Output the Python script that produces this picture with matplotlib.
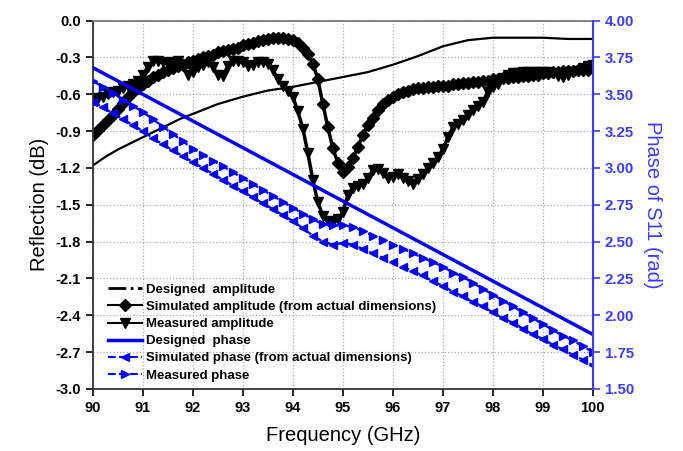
import numpy as np
import matplotlib.pyplot as plt
from matplotlib.lines import Line2D
from matplotlib.ticker import FormatStrFormatter, MultipleLocator

plt.rcParams['font.family'] = ['Liberation Sans', 'DejaVu Sans']
plt.rcParams['axes.unicode_minus'] = False

# designed amplitude (thin line)
f_des = [90.0, 90.25, 90.5, 90.75, 91.0, 91.25, 91.5, 91.75, 92.0, 92.25, 92.5, 92.75,
         93.0, 93.5, 94.0, 94.5, 95.0, 95.5, 96.0, 96.5, 97.0, 97.5, 98.0, 98.5,
         99.0, 99.5, 100.0]
amp_des = [-1.18, -1.11, -1.05, -1.00, -0.95, -0.90, -0.85, -0.80, -0.76, -0.72, -0.68, -0.65,
           -0.62, -0.57, -0.54, -0.50, -0.46, -0.42, -0.36, -0.29, -0.21, -0.16, -0.14, -0.14,
           -0.14, -0.15, -0.15]

# simulated / measured amplitude, 0.1 GHz steps
f_amp = np.round(np.arange(90.0, 100.01, 0.1), 1)
amp_sim = [-0.93, -0.89, -0.85, -0.81, -0.77, -0.72, -0.67, -0.62, -0.58, -0.55,
           -0.52, -0.49, -0.46, -0.44, -0.42, -0.40, -0.39, -0.37, -0.36, -0.34,
           -0.33, -0.31, -0.30, -0.29, -0.28, -0.26, -0.25, -0.24, -0.23, -0.22,
           -0.20, -0.19, -0.18, -0.17, -0.16, -0.15, -0.14, -0.14, -0.14, -0.15,
           -0.16, -0.18, -0.22, -0.27, -0.35, -0.48, -0.68, -0.87, -1.04, -1.16,
           -1.23, -1.19, -1.12, -1.03, -0.93, -0.85, -0.79, -0.73, -0.68, -0.65,
           -0.62, -0.60, -0.58, -0.57, -0.56, -0.55, -0.55, -0.54, -0.54, -0.53,
           -0.53, -0.53, -0.52, -0.52, -0.51, -0.51, -0.50, -0.50, -0.49, -0.49,
           -0.48, -0.48, -0.47, -0.47, -0.46, -0.46, -0.45, -0.45, -0.44, -0.44,
           -0.43, -0.43, -0.42, -0.42, -0.41, -0.41, -0.41, -0.40, -0.40, -0.40,
           -0.39]
amp_meas = [-0.65, -0.63, -0.62, -0.60, -0.58, -0.57, -0.55, -0.53, -0.52, -0.49,
            -0.44, -0.38, -0.33, -0.33, -0.34, -0.35, -0.34, -0.33, -0.37, -0.44,
            -0.42, -0.38, -0.36, -0.34, -0.38, -0.44, -0.45, -0.37, -0.33, -0.33,
            -0.34, -0.37, -0.36, -0.34, -0.34, -0.35, -0.40, -0.48, -0.53, -0.57,
            -0.62, -0.74, -0.88, -1.08, -1.30, -1.48, -1.59, -1.63, -1.64, -1.62,
            -1.56, -1.42, -1.36, -1.35, -1.33, -1.28, -1.22, -1.21, -1.24, -1.28,
            -1.27, -1.25, -1.28, -1.31, -1.33, -1.29, -1.25, -1.20, -1.16, -1.11,
            -1.05, -0.95, -0.87, -0.84, -0.81, -0.77, -0.73, -0.70, -0.66, -0.58,
            -0.54, -0.52, -0.47, -0.44, -0.43, -0.43, -0.42, -0.42, -0.42, -0.42,
            -0.42, -0.42, -0.43, -0.45, -0.46, -0.44, -0.42, -0.41, -0.39, -0.37,
            -0.36]

# phase (right axis)
f_ph_des = [90.0, 95.0, 100.0]
ph_des = [3.68, 2.775, 1.87]

f_ph = np.round(np.arange(90.0, 100.01, 0.2), 1)
ph_meas = [3.59, 3.55, 3.51, 3.46, 3.42, 3.38, 3.33, 3.28, 3.23, 3.18,
           3.13, 3.09, 3.05, 3.01, 2.97, 2.93, 2.89, 2.85, 2.81, 2.77,
           2.73, 2.69, 2.65, 2.62, 2.61, 2.61, 2.60, 2.57, 2.54, 2.51,
           2.48, 2.45, 2.42, 2.39, 2.36, 2.33, 2.29, 2.26, 2.22, 2.18,
           2.14, 2.10, 2.06, 2.02, 1.98, 1.94, 1.90, 1.86, 1.83, 1.79,
           1.75]
ph_sim = [3.45, 3.41, 3.37, 3.33, 3.29, 3.25, 3.20, 3.16, 3.12, 3.08,
          3.04, 3.00, 2.96, 2.92, 2.88, 2.84, 2.80, 2.76, 2.72, 2.68,
          2.64, 2.59, 2.54, 2.50, 2.48, 2.49, 2.48, 2.45, 2.42, 2.39,
          2.36, 2.33, 2.30, 2.27, 2.23, 2.20, 2.16, 2.13, 2.09, 2.06,
          2.02, 1.98, 1.95, 1.91, 1.87, 1.84, 1.80, 1.77, 1.73, 1.70,
          1.66]

labels = ['Designed  amplitude', 'Simulated amplitude (from actual dimensions)',
          'Measured amplitude', 'Designed  phase',
          'Simulated phase (from actual dimensions)', 'Measured phase']

blue = '#0000ff'
axblue = '#3c3cff'

fig = plt.figure(figsize=(6.83, 4.51), dpi=100)
ax = fig.add_axes([0.136, 0.1375, 0.732, 0.817])

ax.plot(f_des, amp_des, color='black', lw=1.6)
ax.plot(f_amp, amp_sim, color='black', lw=2.5, marker='D', ms=6.5)
ax.plot(f_amp, amp_meas, color='black', lw=2.5, marker='v', ms=7.5)

ax.set_xlim(90, 100)
ax.set_ylim(-3.0, 0.0)
ax.xaxis.set_major_locator(MultipleLocator(1))
ax.yaxis.set_major_locator(MultipleLocator(0.3))
ax.yaxis.set_major_formatter(FormatStrFormatter('%.1f'))
ax.grid(True, color='#aaaaaa', ls=':', lw=0.9)
ax.tick_params(direction='out', length=5, width=1.2, labelsize=10.5)
ax.tick_params(axis='x', top=False)
for lab in ax.get_xticklabels() + ax.get_yticklabels():
    lab.set_fontweight('bold')
for s in ['left', 'bottom']:
    ax.spines[s].set_linewidth(1.3)
    ax.spines[s].set_color('#333333')
ax.spines['top'].set_color('#777777')
ax.spines['top'].set_linewidth(1.3)
ax.set_xlabel('Frequency (GHz)', fontsize=14.5, labelpad=8)
ax.set_ylabel('Reflection (dB)', fontsize=14.5, labelpad=5)

ax2 = ax.twinx()
ax2.plot(f_ph_des, ph_des, color=blue, lw=2.5)
ax2.plot(f_ph, ph_sim, color=blue, lw=1.6, ls='--', marker='<', ms=6)
ax2.plot(f_ph, ph_meas, color=blue, lw=1.6, ls='--', marker='>', ms=6)
ax2.set_ylim(1.5, 4.0)
ax2.yaxis.set_major_locator(MultipleLocator(0.25))
ax2.yaxis.set_major_formatter(FormatStrFormatter('%.2f'))
ax2.tick_params(axis='y', colors=axblue, direction='out', length=5, width=1.2, labelsize=10.8)
for lab in ax2.get_yticklabels():
    lab.set_fontweight('bold')
ax2.spines['right'].set_color(axblue)
ax2.spines['right'].set_linewidth(1.5)
ax2.spines['left'].set_visible(False)
ax2.spines['top'].set_visible(False)
ax2.spines['bottom'].set_visible(False)
ax2.set_ylabel('Phase of S11 (rad)', fontsize=14.5, color=axblue, rotation=270, labelpad=20)

handles = [
    Line2D([], [], color='black', lw=2, ls='-.'),
    Line2D([], [], color='black', lw=1.5, marker='D', ms=6),
    Line2D([], [], color='black', lw=1.5, marker='v', ms=7),
    Line2D([], [], color=blue, lw=2.5),
    Line2D([], [], color=blue, lw=1.5, ls='--', marker='<', ms=6),
    Line2D([], [], color=blue, lw=1.5, ls='--', marker='>', ms=6),
]
ax2.legend(handles, labels, loc='upper left', bbox_to_anchor=(0.006, 0.318),
           frameon=False, prop={'weight': 'bold', 'size': 9.5},
           handlelength=2.6, handletextpad=0.3, labelspacing=0.37, borderpad=0.4)

fig.savefig('out.png', dpi=100)
